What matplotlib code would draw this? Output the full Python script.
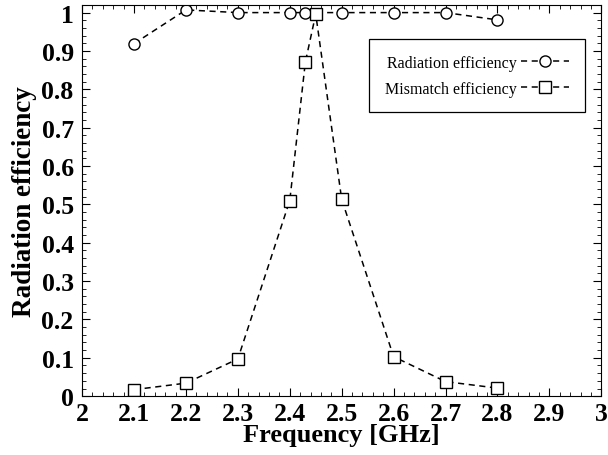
import matplotlib
matplotlib.use("Agg")
import matplotlib.pyplot as plt
from matplotlib.ticker import MultipleLocator

freq_rad = [2.1, 2.2, 2.3, 2.4, 2.43, 2.5, 2.6, 2.7, 2.8]
rad_eff = [0.919, 1.007, 1.0, 1.0, 1.0, 1.0, 1.0, 1.0, 0.981]

freq_mis = [2.1, 2.2, 2.3, 2.4, 2.43, 2.45, 2.5, 2.6, 2.7, 2.8]
mis_eff = [0.017, 0.034, 0.097, 0.51, 0.871, 0.996, 0.513, 0.103, 0.038, 0.021]

xticks = [2, 2.1, 2.2, 2.3, 2.4, 2.5, 2.6, 2.7, 2.8, 2.9, 3]
yticks = [0, 0.1, 0.2, 0.3, 0.4, 0.5, 0.6, 0.7, 0.8, 0.9, 1]

plt.rcParams['font.family'] = ['Liberation Serif', 'DejaVu Serif']

fig = plt.figure(figsize=(6.08, 4.56), dpi=100)
ax = fig.add_axes([0.135, 0.129, 0.854, 0.858])

dash = (0, (4, 3))
ax.plot(freq_rad, rad_eff, linestyle=dash, color='black', linewidth=1.1,
        marker='o', markersize=8, markerfacecolor='white', markeredgecolor='black',
        markeredgewidth=1.0, label='Radiation efficiency')
ax.plot(freq_mis, mis_eff, linestyle=dash, color='black', linewidth=1.1,
        marker='s', markersize=8, markerfacecolor='white', markeredgecolor='black',
        markeredgewidth=1.0, label='Mismatch efficiency')

ax.set_xlim(2, 3)
ax.set_ylim(0, 1.02)
ax.set_xticks(xticks)
ax.set_xticklabels([f"{v:g}" for v in xticks])
ax.set_yticks(yticks)
ax.set_yticklabels([f"{v:g}" for v in yticks])
ax.xaxis.set_minor_locator(MultipleLocator(0.02))
ax.yaxis.set_minor_locator(MultipleLocator(0.02))
ax.tick_params(which='both', direction='in', top=True, right=True)
ax.tick_params(which='major', length=6, labelsize=18.5)
ax.tick_params(axis='x', which='major', pad=4)
ax.tick_params(axis='y', which='major', pad=6)
ax.tick_params(which='minor', length=3)
for lab in ax.get_xticklabels() + ax.get_yticklabels():
    lab.set_fontweight('bold')

ax.set_xlabel('Frequency [GHz]', fontsize=19, fontweight='bold', labelpad=-1)
ax.set_ylabel('Radiation efficiency', fontsize=19.5, fontweight='bold', labelpad=3)

leg = ax.legend(loc='upper right', bbox_to_anchor=(0.969, 0.913), markerfirst=False,
                fontsize=11.5, fancybox=False, framealpha=1, edgecolor='black',
                handlelength=3.0, borderpad=1.0, labelspacing=0.6, handletextpad=0.3,
                borderaxespad=0)
leg.get_frame().set_linewidth(0.9)

fig.savefig('out.png', dpi=100)
